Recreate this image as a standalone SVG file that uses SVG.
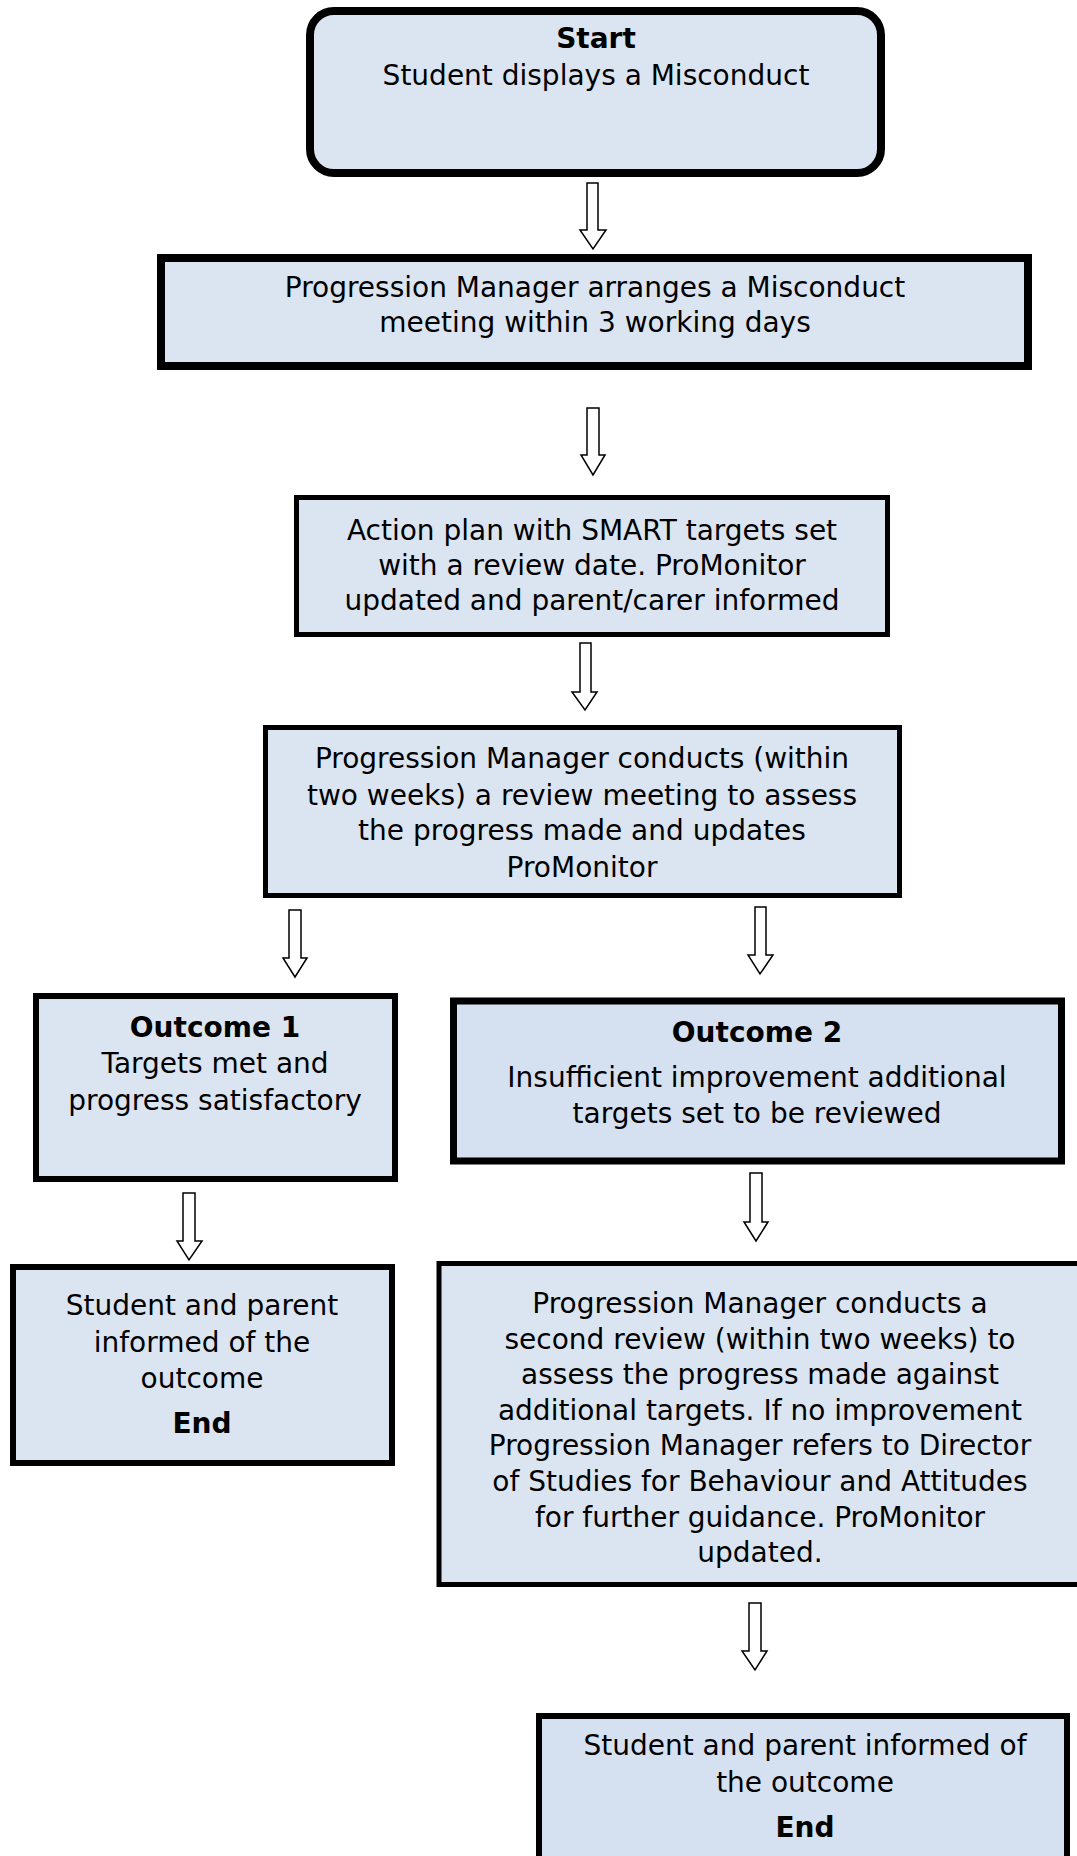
<svg xmlns="http://www.w3.org/2000/svg" width="1077" height="1856" viewBox="0 0 1077 1856">
<style>
  .box { fill: #dbe5f1; stroke: #000; }
  .box2 { fill: #d5e0f0; stroke: #000; }
  .t { font-family: "DejaVu Sans", "Liberation Sans", sans-serif; font-size: 28px; fill: #000; text-anchor: middle; }
  .b { font-weight: bold; }
  .arrow { fill: #fff; stroke: #000; stroke-width: 1.5; stroke-linejoin: miter; }
</style>
<rect width="1077" height="1856" fill="#fff"/>

<g id="connectors">
  <polygon class="arrow" points="587,183 598,183 598,230 606,230 593,249 580,230 587,230"/>
  <polygon class="arrow" points="587,408 599,408 599,455 605,455 593,475 581,455 587,455"/>
  <polygon class="arrow" points="580,643 591,643 591,692 597,692 585,710 572,692 580,692"/>
  <polygon class="arrow" points="289,910 301,910 301,958 307,958 295,977 283,958 289,958"/>
  <polygon class="arrow" points="755,907 766,907 766,955 773,955 760,974 748,955 755,955"/>
  <polygon class="arrow" points="183,1193 195,1193 195,1241 202,1241 189,1260 177,1241 183,1241"/>
  <polygon class="arrow" points="750,1173 762,1173 762,1222 768,1222 756,1241 744,1222 750,1222"/>
  <polygon class="arrow" points="749,1603 761,1603 761,1651 767,1651 755,1670 742,1651 749,1651"/>
</g>

<g id="start">
  <rect class="box" x="310" y="11" width="571" height="162" rx="24" ry="24" stroke-width="8"/>
  <text class="t b" x="596" y="48">Start</text>
  <text class="t" x="596" y="85">Student displays a Misconduct</text>
</g>

<g id="arrange">
  <rect class="box" x="161" y="258" width="867" height="108" stroke-width="8"/>
  <text class="t" x="595" y="297">Progression Manager arranges a Misconduct</text>
  <text class="t" x="595" y="332">meeting within 3 working days</text>
</g>

<g id="action">
  <rect class="box" x="296.5" y="497.5" width="591" height="137" stroke-width="5"/>
  <text class="t" x="592" y="540">Action plan with SMART targets set</text>
  <text class="t" x="592" y="575">with a review date. ProMonitor</text>
  <text class="t" x="592" y="610">updated and parent/carer informed</text>
</g>

<g id="review">
  <rect class="box" x="265.5" y="727.5" width="634" height="168" stroke-width="5"/>
  <text class="t" x="582" y="768">Progression Manager conducts (within</text>
  <text class="t" x="582" y="805">two weeks) a review meeting to assess</text>
  <text class="t" x="582" y="840">the progress made and updates</text>
  <text class="t" x="582" y="877">ProMonitor</text>
</g>

<g id="outcome1">
  <rect class="box" x="36" y="996" width="359" height="183" stroke-width="6"/>
  <text class="t b" x="215" y="1037">Outcome 1</text>
  <text class="t" x="215" y="1073">Targets met and</text>
  <text class="t" x="215" y="1110">progress satisfactory</text>
</g>

<g id="outcome2">
  <rect class="box2" x="453.5" y="1001" width="608" height="160" stroke-width="7"/>
  <text class="t b" x="757" y="1042">Outcome 2</text>
  <text class="t" x="757" y="1087">Insufficient improvement additional</text>
  <text class="t" x="757" y="1123">targets set to be reviewed</text>
</g>

<g id="end1">
  <rect class="box" x="13" y="1267" width="379" height="196" stroke-width="6"/>
  <text class="t" x="202" y="1315">Student and parent</text>
  <text class="t" x="202" y="1352">informed of the</text>
  <text class="t" x="202" y="1388">outcome</text>
  <text class="t b" x="202" y="1433">End</text>
</g>

<g id="second-review">
  <rect class="box" x="439" y="1263.5" width="650" height="321" stroke-width="5"/>
  <text class="t" x="760" y="1313">Progression Manager conducts a</text>
  <text class="t" x="760" y="1349">second review (within two weeks) to</text>
  <text class="t" x="760" y="1384">assess the progress made against</text>
  <text class="t" x="760" y="1420">additional targets. If no improvement</text>
  <text class="t" x="760" y="1455">Progression Manager refers to Director</text>
  <text class="t" x="760" y="1491">of Studies for Behaviour and Attitudes</text>
  <text class="t" x="760" y="1527">for further guidance. ProMonitor</text>
  <text class="t" x="760" y="1562">updated.</text>
</g>

<g id="end2">
  <rect class="box2" x="539" y="1716" width="528" height="160" stroke-width="6"/>
  <text class="t" x="805" y="1755">Student and parent informed of</text>
  <text class="t" x="805" y="1792">the outcome</text>
  <text class="t b" x="805" y="1837">End</text>
</g>
</svg>
